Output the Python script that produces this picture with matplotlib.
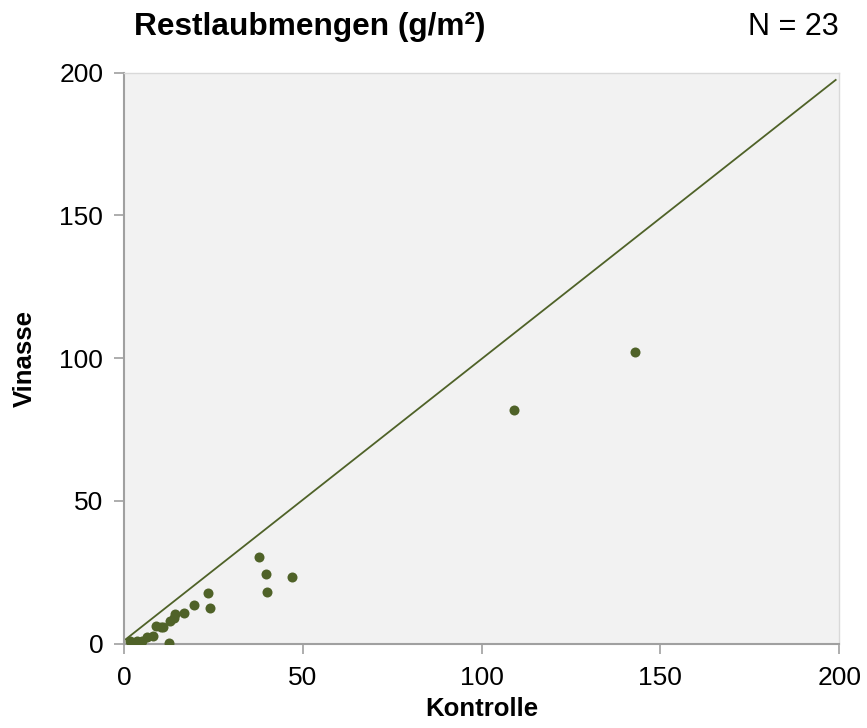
import matplotlib
matplotlib.use("Agg")
import matplotlib.pyplot as plt

plt.rcParams['font.family'] = ['Liberation Sans', 'DejaVu Sans']

kontrolle = [143.0, 109.0, 47.0, 37.7, 39.8, 40.0, 23.4, 24.0, 19.5, 16.9, 14.2, 14.0,
             12.8, 10.4, 9.0, 11.0, 8.2, 6.5, 5.0, 3.6, 1.6, 4.5, 12.7]
vinasse = [102.0, 82.0, 23.2, 30.5, 24.2, 18.1, 17.7, 12.6, 13.5, 10.7, 10.2, 8.8,
           8.0, 5.8, 6.3, 5.8, 2.6, 2.3, 0.8, 0.8, 1.0, 0.3, 0.2]
line_x = [0.5, 199.0]
line_y = [1.5, 197.5]
ticks = [0, 50, 100, 150, 200]

color = '#4F6228'
fig = plt.figure(figsize=(8.67, 7.28), dpi=100)
ax = fig.add_axes([0.143, 0.116, 0.825, 0.784])
ax.set_facecolor('#F2F2F2')
ax.plot(line_x, line_y, color=color, lw=1.3, zorder=2)
ax.scatter(kontrolle, vinasse, s=52, color=color, zorder=3, linewidths=0)
ax.set_xlim(0, 200)
ax.set_ylim(0, 200)
ax.set_xticks(ticks)
ax.set_yticks(ticks)
ax.tick_params(labelsize=19, length=7, width=1.2, color='#A0A0A0', direction='out')
ax.tick_params(axis='x', pad=9)
ax.tick_params(axis='y', pad=8)
for s in ['left', 'bottom']:
    ax.spines[s].set_color('#A0A0A0')
    ax.spines[s].set_linewidth(1.5)
for s in ['top', 'right']:
    ax.spines[s].set_color('#D9D9D9')
    ax.spines[s].set_linewidth(1.0)
ax.set_xlabel('Kontrolle', fontsize=18.5, fontweight='bold', labelpad=5)
ax.set_ylabel('Vinasse', fontsize=18.5, fontweight='bold', labelpad=16)
fig.text(0.155, 0.963, 'Restlaubmengen (g/m²)', fontsize=22.8, fontweight='bold', va='center', ha='left')
fig.text(0.967, 0.963, 'N = 23', fontsize=22, va='center', ha='right')
fig.savefig('out.png', dpi=100)
